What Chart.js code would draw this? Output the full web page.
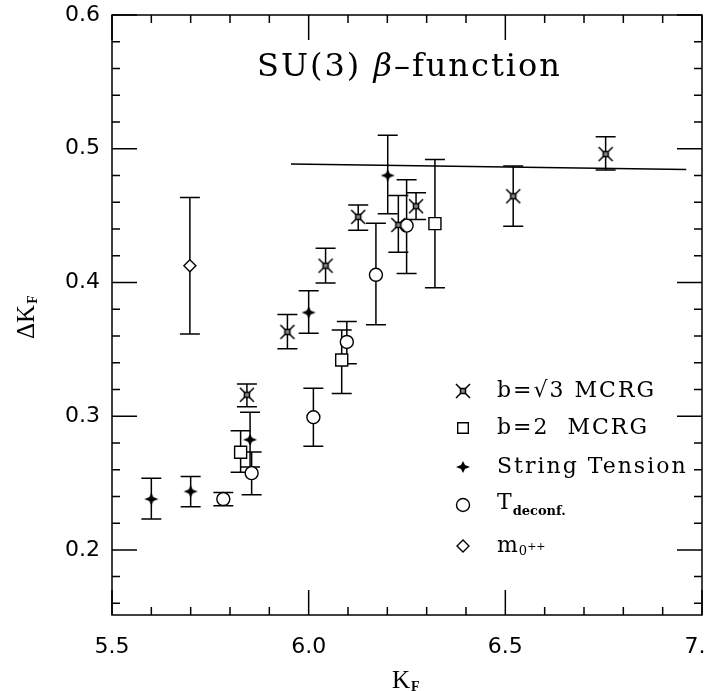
<!DOCTYPE html>
<html>
<head>
<meta charset="utf-8">
<script src="https://cdn.jsdelivr.net/npm/chart.js@4/dist/chart.umd.min.js"></script>
<style>
  html, body { margin: 0; padding: 0; background: #fff; overflow: hidden; }
  canvas { display: block; }
</style>
</head>
<body>
<canvas id="betaChart" width="704" height="691"></canvas>
<script>
// b = sqrt(3) MCRG
const mcrg3K  = [5.843, 5.946, 6.043, 6.126, 6.228, 6.273, 6.520, 6.755];
const mcrg3Dk = [0.316, 0.363, 0.4125, 0.449, 0.443, 0.457, 0.4645, 0.496];
const mcrg3Hi = [0.324, 0.376, 0.4255, 0.458, 0.465, 0.467, 0.487, 0.509];
const mcrg3Lo = [0.307, 0.3505, 0.3995, 0.439, 0.4225, 0.447, 0.442, 0.484];

// b = 2 MCRG
const mcrg2K  = [5.827, 6.084, 6.321];
const mcrg2Dk = [0.273, 0.342, 0.444];
const mcrg2Hi = [0.289, 0.3645, 0.492];
const mcrg2Lo = [0.258, 0.317, 0.396];

// string tension
const stringK  = [5.60, 5.70, 5.851, 6.00, 6.201];
const stringDk = [0.238, 0.2437, 0.2824, 0.3775, 0.480];
const stringHi = [0.2535, 0.2548, 0.303, 0.3937, 0.510];
const stringLo = [0.223, 0.2323, 0.262, 0.362, 0.4513];

// deconfinement temperature
const tdecK  = [5.783, 5.855, 6.012, 6.097, 6.171, 6.249];
const tdecDk = [0.238, 0.2574, 0.2992, 0.3555, 0.4057, 0.4425];
const tdecHi = [0.243, 0.2732, 0.3208, 0.3707, 0.4442, 0.4768];
const tdecLo = [0.233, 0.2413, 0.2775, 0.3392, 0.3683, 0.4067];

// 0++ glueball mass
const glueK  = [5.698];
const glueDk = [0.4125];
const glueHi = [0.4635];
const glueLo = [0.3614];

// asymptotic line
const lineK  = [5.955, 6.96];
const lineDk = [0.4885, 0.4845];

const xTicks = [5.5, 6.0, 6.5, 7.0];
const xTickLabels = ['5.5', '6.0', '6.5', '7.0'];
const yTicks = [0.2, 0.3, 0.4, 0.5, 0.6];
const yTickLabels = ['0.2', '0.3', '0.4', '0.5', '0.6'];

function pts(xs, ys) {
  return xs.map((x, i) => ({ x: x, y: ys[i] }));
}

// custom markers
function xSquareMarker() {
  const c = document.createElement('canvas');
  c.width = 22; c.height = 22;
  const g = c.getContext('2d');
  g.translate(11, 11);
  g.strokeStyle = '#000';
  g.lineWidth = 1.5;
  g.fillStyle = '#888';
  g.fillRect(-2.5, -2.5, 5, 5);
  g.strokeRect(-2.5, -2.5, 5, 5);
  g.beginPath();
  [[1, 1], [1, -1], [-1, 1], [-1, -1]].forEach(d => {
    g.moveTo(d[0] * 2.5, d[1] * 2.5);
    g.lineTo(d[0] * 7, d[1] * 7);
  });
  g.stroke();
  return c;
}

function starMarker() {
  const c = document.createElement('canvas');
  c.width = 18; c.height = 18;
  const g = c.getContext('2d');
  g.translate(9, 9);
  g.fillStyle = '#000';
  g.beginPath();
  g.moveTo(0, -6);
  g.lineTo(2, -2);
  g.lineTo(7, 0);
  g.lineTo(2, 2);
  g.lineTo(0, 6);
  g.lineTo(-2, 2);
  g.lineTo(-7, 0);
  g.lineTo(-2, -2);
  g.closePath();
  g.fill();
  return c;
}

const xsq = xSquareMarker();
const star = starMarker();

const series = [
  { K: mcrg3K, hi: mcrg3Hi, lo: mcrg3Lo },
  { K: mcrg2K, hi: mcrg2Hi, lo: mcrg2Lo },
  { K: stringK, hi: stringHi, lo: stringLo },
  { K: tdecK, hi: tdecHi, lo: tdecLo },
  { K: glueK, hi: glueHi, lo: glueLo }
];

const errorBars = {
  id: 'errorBars',
  beforeDatasetsDraw(chart) {
    const ctx = chart.ctx;
    const xs = chart.scales.x, ys = chart.scales.y;
    ctx.save();
    ctx.strokeStyle = '#000';
    ctx.lineWidth = 1.5;
    series.forEach(s => {
      s.K.forEach((k, i) => {
        const px = xs.getPixelForValue(k);
        const top = ys.getPixelForValue(s.hi[i]);
        const bot = ys.getPixelForValue(s.lo[i]);
        ctx.beginPath();
        ctx.moveTo(px, top); ctx.lineTo(px, bot);
        ctx.moveTo(px - 10, top); ctx.lineTo(px + 10, top);
        ctx.moveTo(px - 10, bot); ctx.lineTo(px + 10, bot);
        ctx.stroke();
      });
    });
    ctx.restore();
  }
};

function textWithSub(ctx, x, y, main, mainFont, sub, subFont, dy) {
  ctx.font = mainFont;
  ctx.fillText(main, x, y);
  const w = ctx.measureText(main).width;
  ctx.font = subFont;
  ctx.fillText(sub, x + w + 1, y + dy);
  return x + w + 1 + ctx.measureText(sub).width;
}

const frame = {
  id: 'frame',
  afterDraw(chart) {
    const ctx = chart.ctx;
    const a = chart.chartArea;
    const xs = chart.scales.x, ys = chart.scales.y;
    ctx.save();
    ctx.strokeStyle = '#000';
    ctx.fillStyle = '#000';
    ctx.lineWidth = 1.5;
    ctx.strokeRect(a.left, a.top, a.right - a.left, a.bottom - a.top);

    // inward ticks
    ctx.beginPath();
    for (let i = 0; i <= 15; i++) {
      const v = 5.5 + i * 0.1;
      const px = xs.getPixelForValue(v);
      const len = (i % 5 === 0) ? 25 : 8;
      ctx.moveTo(px, a.bottom); ctx.lineTo(px, a.bottom - len);
      ctx.moveTo(px, a.top); ctx.lineTo(px, a.top + len);
    }
    for (let i = 8; i <= 30; i++) {
      const v = i * 0.02;
      const py = ys.getPixelForValue(v);
      const len = (i % 5 === 0) ? 25 : 8;
      ctx.moveTo(a.left, py); ctx.lineTo(a.left + len, py);
      ctx.moveTo(a.right, py); ctx.lineTo(a.right - len, py);
    }
    ctx.stroke();

    // tick labels
    ctx.font = '22px "DejaVu Sans"';
    ctx.textBaseline = 'middle';
    ctx.textAlign = 'center';
    xTicks.forEach((v, i) => ctx.fillText(xTickLabels[i], xs.getPixelForValue(v), a.bottom + 32));
    ctx.textAlign = 'right';
    yTicks.forEach((v, i) => ctx.fillText(yTickLabels[i], a.left - 12, ys.getPixelForValue(v)));

    // axis titles
    ctx.textAlign = 'left';
    ctx.textBaseline = 'alphabetic';
    textWithSub(ctx, 392, 688, 'K', '25px "Liberation Serif"', 'F', 'bold 14px "Liberation Serif"', 3);
    ctx.save();
    ctx.translate(34, 339);
    ctx.rotate(-Math.PI / 2);
    textWithSub(ctx, 0, 0, 'ΔK', '25px "Liberation Serif"', 'F', 'bold 14px "Liberation Serif"', 3);
    ctx.restore();

    // title
    ctx.font = '32px "DejaVu Serif"';
    ctx.letterSpacing = '2px';
    let tx = 257;
    ctx.fillText('SU(3) ', tx, 76);
    tx += ctx.measureText('SU(3) ').width;
    ctx.font = 'italic 32px "DejaVu Serif"';
    ctx.fillText('β', tx, 76);
    tx += ctx.measureText('β').width;
    ctx.font = '32px "DejaVu Serif"';
    ctx.fillText('–function', tx, 76);

    // legend
    const lx = 463, tx0 = 497;
    const rows = [391, 428, 467, 505, 546];
    const h = Chart.helpers;
    ctx.drawImage(xsq, lx - 11, rows[0] - 11);
    ctx.lineWidth = 1.4;
    ctx.fillStyle = '#fff';
    h.drawPoint(ctx, { pointStyle: 'rect', radius: 7.5, borderWidth: 1.4, rotation: 0 }, lx, rows[1]);
    ctx.drawImage(star, lx - 9, rows[2] - 9);
    h.drawPoint(ctx, { pointStyle: 'circle', radius: 6.5, borderWidth: 1.4, rotation: 0 }, lx, rows[3]);
    h.drawPoint(ctx, { pointStyle: 'rectRot', radius: 6, borderWidth: 1.4, rotation: 0 }, lx, rows[4]);

    ctx.fillStyle = '#000';
    ctx.letterSpacing = '2px';
    ctx.font = '22px "DejaVu Serif"';
    ctx.textBaseline = 'middle';
    ctx.fillText('b=√3 MCRG', tx0, rows[0]);
    ctx.fillText('b=2  MCRG', tx0, rows[1]);
    ctx.fillText('String Tension', tx0, rows[2]);
    ctx.letterSpacing = '0px';
    textWithSub(ctx, tx0, rows[3] - 2, 'T', '22px "DejaVu Serif"', 'deconf.', 'bold 13px "DejaVu Serif"', 9);
    ctx.font = '22px "DejaVu Serif"';
    ctx.fillText('m', tx0, rows[4]);
    const mw = ctx.measureText('m').width;
    ctx.font = '13px "DejaVu Serif"';
    ctx.fillText('0', tx0 + mw + 1, rows[4] + 6);
    const zw = ctx.measureText('0').width;
    ctx.font = '11px "DejaVu Serif"';
    ctx.fillText('++', tx0 + mw + zw + 1, rows[4] + 1);
    ctx.restore();
  }
};

const ctx = document.getElementById('betaChart').getContext('2d');
new Chart(ctx, {
  type: 'scatter',
  data: {
    datasets: [
      {
        type: 'line',
        label: 'asymptotic',
        data: pts(lineK, lineDk),
        borderColor: '#000',
        borderWidth: 1.5,
        pointRadius: 0
      },
      {
        label: 'b=√3 MCRG',
        data: pts(mcrg3K, mcrg3Dk),
        pointStyle: xsq
      },
      {
        label: 'b=2 MCRG',
        data: pts(mcrg2K, mcrg2Dk),
        pointStyle: 'rect',
        pointRadius: 8.5,
        borderColor: '#000',
        backgroundColor: '#fff',
        borderWidth: 1.4
      },
      {
        label: 'String Tension',
        data: pts(stringK, stringDk),
        pointStyle: star
      },
      {
        label: 'T deconf.',
        data: pts(tdecK, tdecDk),
        pointStyle: 'circle',
        pointRadius: 6.5,
        borderColor: '#000',
        backgroundColor: '#fff',
        borderWidth: 1.4
      },
      {
        label: 'm 0++',
        data: pts(glueK, glueDk),
        pointStyle: 'rectRot',
        pointRadius: 6,
        borderColor: '#000',
        backgroundColor: '#fff',
        borderWidth: 1.4
      }
    ]
  },
  options: {
    responsive: false,
    animation: false,
    devicePixelRatio: 1,
    layout: { autoPadding: false, padding: { left: 112, right: 2, top: 15, bottom: 76 } },
    scales: {
      x: { type: 'linear', min: 5.5, max: 7.0, display: false },
      y: { type: 'linear', min: 0.1513, max: 0.6, display: false }
    },
    plugins: {
      legend: { display: false },
      tooltip: { enabled: false }
    }
  },
  plugins: [errorBars, frame]
});
</script>
</body>
</html>
